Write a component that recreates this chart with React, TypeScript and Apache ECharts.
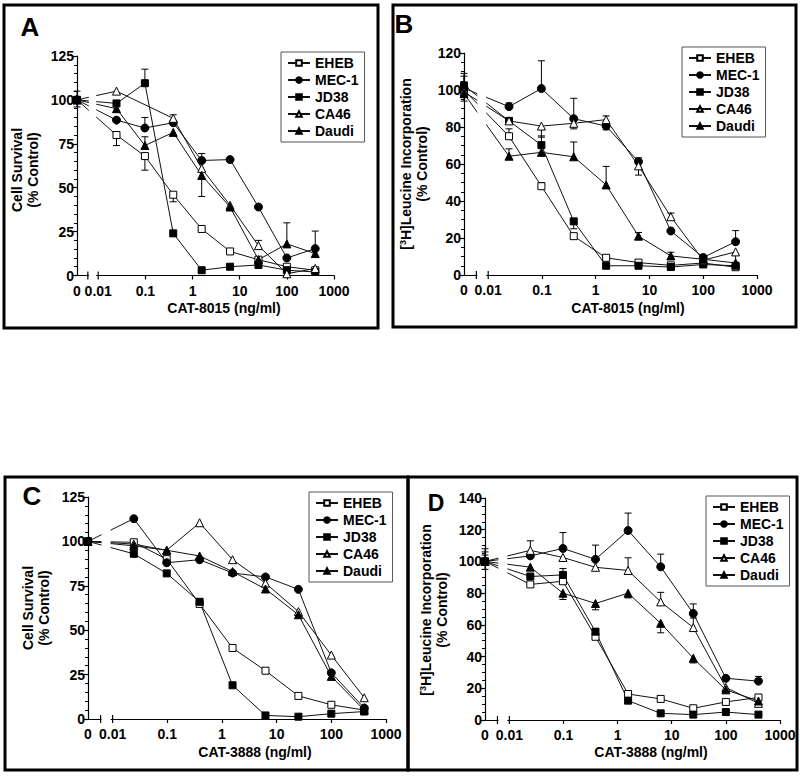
import { useEffect, useRef } from 'react';
import * as echarts from 'echarts';

// ---------------- data ----------------
const DOSES = [0, 0.0244, 0.0977, 0.39, 1.5625, 6.25, 25, 100, 400];
const SERIES_NAMES = ['EHEB', 'MEC-1', 'JD38', 'CA46', 'Daudi'];
const X_TICK_LABELS = ['0', '0.01', '0.1', '1', '10', '100', '1000'];

// Panel A: Cell Survival, CAT-8015 (order: EHEB, MEC-1, JD38, CA46, Daudi)
const A_VALUES = [
  [100, 80, 68, 46, 26.5, 13.7, 9, 5, 3],
  [100, 88.5, 84, 87, 65.5, 66, 39, 10, 15.3],
  [100, 98, 109.5, 24, 3, 5, 6, 3, 2],
  [100, 105, null, 89.5, 61, 40, 17, 1, 4],
  [100, 95, 74, 81.5, 57, 39, 9, 18, 12.5],
];
const A_ERRORS = [
  [5, -6, -8, -4, 0, 0, 0, 0, 0],
  [0, 0, 6, 0, 4, 0, 0, 0, 10],
  [0, 0, 8, 0, 0, 0, 0, 0, 0],
  [-4, 0, 0, 2, 0, 0, 3, 0, 0],
  [0, 0, 5, 0, -12, 0, 0, 12, 0],
];

// Panel B: [3H]Leucine incorporation, CAT-8015
const B_VALUES = [
  [100, 75, 48, 21, 9.3, 6.7, 5.2, 6.5, 4.2],
  [101, 91, 100.8, 84.5, 80.5, 61.3, 23.8, 9.5, 18],
  [102.5, 83.3, 70.2, 29, 5, 5, 4.3, 5.7, 5],
  [99, 83.3, 80.5, 82, 84, 59, 31.5, 8, 12.5],
  [98, 64.2, 66.3, 63.9, 48.7, 21, 10.3, 8.5, 6.5],
];
const B_ERRORS = [
  [9, 4, 2, 0, 0, 0, 0, 0, 0],
  [0, 2, 15, 11, -2, 2, 0, 0, 6],
  [5, 0, 5, -4, 0, 0, 0, 0, 0],
  [0, 0, -6, -3, 2, -5, 2, 2, 0],
  [-4, 4, 0, 8, 10, 2, 2, 0, 5],
];

// Panel C: Cell Survival, CAT-3888
const C_VALUES = [
  [100, 99.5, 90, 64.8, 40, 27.2, 13, 8, 5],
  [100, 112.8, 88, 89.7, 82.2, 80, 73, 26, 6.2],
  [100, 93, 82, 66, 19, 2, 1.3, 3, 4.2],
  [100, 98.5, 95, 110.5, 89.7, 76.5, 60.5, 36, 12],
  [100, 97.5, 95, 91.8, 83, 73.2, 58.7, 24, 5],
];
const C_ERRORS = [
  [0, 0, 0, 0, 0, 0, 0, 0, 0],
  [0, 0, 0, 0, 0, 0, 0, 0, 0],
  [0, 0, 0, 0, 0, 0, 0, 0, 0],
  [0, 0, 0, 0, 0, 0, 0, 0, 0],
  [0, 0, 0, 0, 0, 0, 0, 0, 0],
];

// Panel D: [3H]Leucine incorporation, CAT-3888
const D_VALUES = [
  [100, 85.5, 87.5, 52.5, 16.4, 13.3, 7.4, 11.4, 14.2],
  [100, 103.5, 108.2, 101.3, 119.5, 96.6, 67.2, 26.3, 24.5],
  [100, 90.5, 91.5, 55.7, 12.2, 4.2, 3.4, 5, 3.4],
  [100, 107, 102.5, 96.3, 94.3, 74.5, 58.3, 20.5, 10.5],
  [100, 96.4, 80, 73.5, 80, 61, 39, 19, 12],
];
const D_ERRORS = [
  [0, 0, 2, 0, 0, 0, 0, 0, 0],
  [8, 0, 10, 9, 11, 8, 6, 0, 3],
  [-5, 0, 4, 2, 0, 0, 0, 0, 0],
  [6, 6, 0, 0, 8, 6, 6, 0, 0],
  [4, 0, -4, -4, -3, -6, -3, 0, 0],
];

// ---------------- styling / layout ----------------
const FONT = "'Liberation Sans', Arial, Helvetica, sans-serif";
const T0 = -2.45; // axis position of the zero-dose control
const BREAK_START = -2.22;
const BREAK_END = -2;
const TICK_POS = [T0, -2, -1, 0, 1, 2, 3];
const tx = (d: number) => (d === 0 ? T0 : Math.log10(d));

const MARKERS = [
  { symbol: 'rect', size: 7, open: true },
  { symbol: 'circle', size: 8, open: false },
  { symbol: 'rect', size: 7, open: false },
  { symbol: 'triangle', size: 8, open: true },
  { symbol: 'triangle', size: 8, open: false },
];

const PANELS = [
  {
    letter: 'A', letterPos: [30, 27], letterSize: 26,
    values: A_VALUES, errors: A_ERRORS,
    grid: { left: 77, top: 56, width: 257, height: 219.5 },
    yMax: 125, yInt: 25, yMinor: 5,
    legend: { left: 281, top: 52 },
    xTitle: 'CAT-8015 (ng/ml)', xTitlePos: [224, 308],
    yTitleSup: false, yTitle: 'Cell Survival', yTitlePos: [25, 170],
    border: { x: 4, y: 5, width: 374, height: 323 },
  },
  {
    letter: 'B', letterPos: [404, 24], letterSize: 26,
    values: B_VALUES, errors: B_ERRORS,
    grid: { left: 464, top: 53, width: 293, height: 222 },
    yMax: 120, yInt: 20, yMinor: 4,
    legend: { left: 682, top: 47 },
    xTitle: 'CAT-8015 (ng/ml)', xTitlePos: [628, 308],
    yTitleSup: true, yTitle: 'H]Leucine Incorporation', yTitlePos: [414, 164],
    border: { x: 393, y: 5, width: 403, height: 322 },
  },
  {
    letter: 'C', letterPos: [32, 496], letterSize: 26,
    values: C_VALUES, errors: C_ERRORS,
    grid: { left: 88, top: 497, width: 298, height: 222 },
    yMax: 125, yInt: 25, yMinor: 5,
    legend: { left: 309, top: 492 },
    xTitle: 'CAT-3888 (ng/ml)', xTitlePos: [255, 752],
    yTitleSup: false, yTitle: 'Cell Survival', yTitlePos: [36, 608],
    border: { x: 5, y: 477, width: 403, height: 293 },
  },
  {
    letter: 'D', letterPos: [436, 503], letterSize: 23,
    values: D_VALUES, errors: D_ERRORS,
    grid: { left: 485, top: 498, width: 295, height: 222 },
    yMax: 140, yInt: 20, yMinor: 4,
    legend: { left: 706, top: 496 },
    xTitle: 'CAT-3888 (ng/ml)', xTitlePos: [651, 752],
    yTitleSup: true, yTitle: 'H]Leucine Incorporation', yTitlePos: [434, 610],
    border: { x: 408, y: 477, width: 389, height: 293 },
  },
];

function labelFor(v: number) {
  let best = 0;
  for (let i = 1; i < TICK_POS.length; i++) {
    if (Math.abs(TICK_POS[i] - v) < Math.abs(TICK_POS[best] - v)) best = i;
  }
  return X_TICK_LABELS[best];
}

function buildOption() {
  const grids: any[] = [];
  const xAxes: any[] = [];
  const yAxes: any[] = [];
  const series: any[] = [];
  const legends: any[] = [];
  const graphics: any[] = [];
  const axisColor = '#000';

  PANELS.forEach((p, i) => {
    grids.push({ ...p.grid, containLabel: false });
    xAxes.push({
      type: 'value', gridIndex: i, min: T0, max: 3,
      axisLine: { show: true, onZero: false, lineStyle: { color: axisColor, width: 1.2 } },
      axisTick: { show: true, length: 4, customValues: [-1, 0, 1, 2, 3], lineStyle: { color: axisColor, width: 1.2 } },
      axisLabel: {
        customValues: TICK_POS, formatter: (v: number) => labelFor(v), margin: 8,
        color: '#000', fontSize: 14, fontWeight: 'bold', fontFamily: FONT,
      },
      splitLine: { show: false },
    });
    yAxes.push({
      type: 'value', gridIndex: i, min: 0, max: p.yMax, interval: p.yInt,
      axisLine: { show: true, onZero: false, lineStyle: { color: axisColor, width: 1.2 } },
      axisTick: { show: true, length: 5, lineStyle: { color: axisColor, width: 1.2 } },
      minorTick: { show: true, splitNumber: p.yMinor, length: 3, lineStyle: { color: axisColor, width: 1 } },
      splitLine: { show: false },
      minorSplitLine: { show: false },
      axisLabel: { color: '#000', fontSize: 14, fontWeight: 'bold', fontFamily: FONT, margin: 3 },
    });

    // error bars
    const errItems: number[][] = [];
    p.values.forEach((vals, s) => {
      vals.forEach((v, k) => {
        const e = p.errors[s][k];
        if (v != null && e) errItems.push([tx(DOSES[k]), v as number, e]);
      });
    });
    series.push({
      type: 'custom', xAxisIndex: i, yAxisIndex: i, z: 1, silent: true,
      data: errItems,
      renderItem: (_params: any, api: any) => {
        const x = api.value(0), y = api.value(1), e = api.value(2);
        const a = api.coord([x, y]);
        const b = api.coord([x, y + e]);
        return {
          type: 'group',
          children: [
            { type: 'line', shape: { x1: a[0], y1: a[1], x2: b[0], y2: b[1] }, style: { stroke: '#000', lineWidth: 1 } },
            { type: 'line', shape: { x1: b[0] - 3.5, y1: b[1], x2: b[0] + 3.5, y2: b[1] }, style: { stroke: '#000', lineWidth: 1 } },
          ],
        };
      },
    });

    // data lines
    p.values.forEach((vals, s) => {
      const m = MARKERS[s];
      series.push({
        type: 'line', name: SERIES_NAMES[s], xAxisIndex: i, yAxisIndex: i, z: 5,
        data: DOSES.map((d, k) => [tx(d), vals[k]]).filter((pt) => pt[1] != null),
        symbol: m.symbol, symbolSize: m.size, showSymbol: true,
        lineStyle: { color: '#111', width: 1 },
        itemStyle: { color: m.open ? '#fff' : '#000', borderColor: '#000', borderWidth: 1 },
        emphasis: { disabled: true },
      });
    });

    // axis break mask
    series.push({
      type: 'custom', xAxisIndex: i, yAxisIndex: i, z: 20, silent: true,
      data: [[BREAK_START, 0]],
      renderItem: (params: any, api: any) => {
        const a = api.coord([BREAK_START, 0]);
        const b = api.coord([BREAK_END, 0]);
        const top = params.coordSys.y;
        return {
          type: 'group',
          children: [
            { type: 'rect', shape: { x: a[0] + 1, y: top, width: b[0] - a[0] - 3, height: a[1] - top + 2 }, style: { fill: '#fff' } },
            { type: 'line', shape: { x1: a[0], y1: a[1] - 4, x2: a[0], y2: a[1] + 4 }, style: { stroke: '#000', lineWidth: 1.2 } },
            { type: 'line', shape: { x1: b[0], y1: b[1] - 4, x2: b[0], y2: b[1] + 4 }, style: { stroke: '#000', lineWidth: 1.2 } },
          ],
        };
      },
    });

    legends.push({
      show: true, orient: 'vertical', left: p.legend.left, top: p.legend.top,
      data: SERIES_NAMES, selectedMode: false,
      itemWidth: 22, itemHeight: 7, itemGap: 3, padding: [4, 6, 4, 6],
      borderColor: '#555', borderWidth: 1,
      textStyle: { fontSize: 14, fontWeight: 'bold', fontFamily: FONT, color: '#000' },
    });

    graphics.push({
      type: 'rect', shape: p.border, style: { fill: 'none', stroke: '#000', lineWidth: 3 }, z: 100,
    });
    graphics.push({
      type: 'text', x: p.letterPos[0], y: p.letterPos[1],
      style: { text: p.letter, fill: '#000', font: `bold ${p.letterSize}px ${FONT}`, align: 'center', verticalAlign: 'middle' },
    });
    graphics.push({
      type: 'text', x: p.xTitlePos[0], y: p.xTitlePos[1],
      style: { text: p.xTitle, fill: '#000', font: `bold 14px ${FONT}`, align: 'center', verticalAlign: 'middle' },
    });
    const rich = {
      n: { fontSize: 14, fontWeight: 'bold', fontFamily: FONT, lineHeight: 16, fill: '#000' },
      s: { fontSize: 9, fontWeight: 'bold', fontFamily: FONT, lineHeight: 9, verticalAlign: 'top', fill: '#000' },
    };
    const yText = p.yTitleSup
      ? `{n|[}{s|3}{n|${p.yTitle}}\n{n|(% Control)}`
      : `{n|${p.yTitle}}\n{n|(% Control)}`;
    graphics.push({
      type: 'text', x: p.yTitlePos[0], y: p.yTitlePos[1], rotation: Math.PI / 2,
      style: { text: yText, rich, align: 'center', verticalAlign: 'middle', fill: '#000' },
    });
  });

  return {
    animation: false,
    backgroundColor: '#fff',
    grid: grids,
    xAxis: xAxes,
    yAxis: yAxes,
    legend: legends,
    series,
    graphic: graphics,
  };
}

export default function App() {
  const ref = useRef<HTMLDivElement>(null);
  useEffect(() => {
    if (!ref.current) return;
    const chart = echarts.init(ref.current, undefined, { renderer: 'svg' });
    chart.setOption(buildOption() as any);
    return () => chart.dispose();
  }, []);
  return (
    <div
      ref={ref}
      style={{ position: 'absolute', left: 0, top: 0, width: 800, height: 780, background: '#fff' }}
    />
  );
}
